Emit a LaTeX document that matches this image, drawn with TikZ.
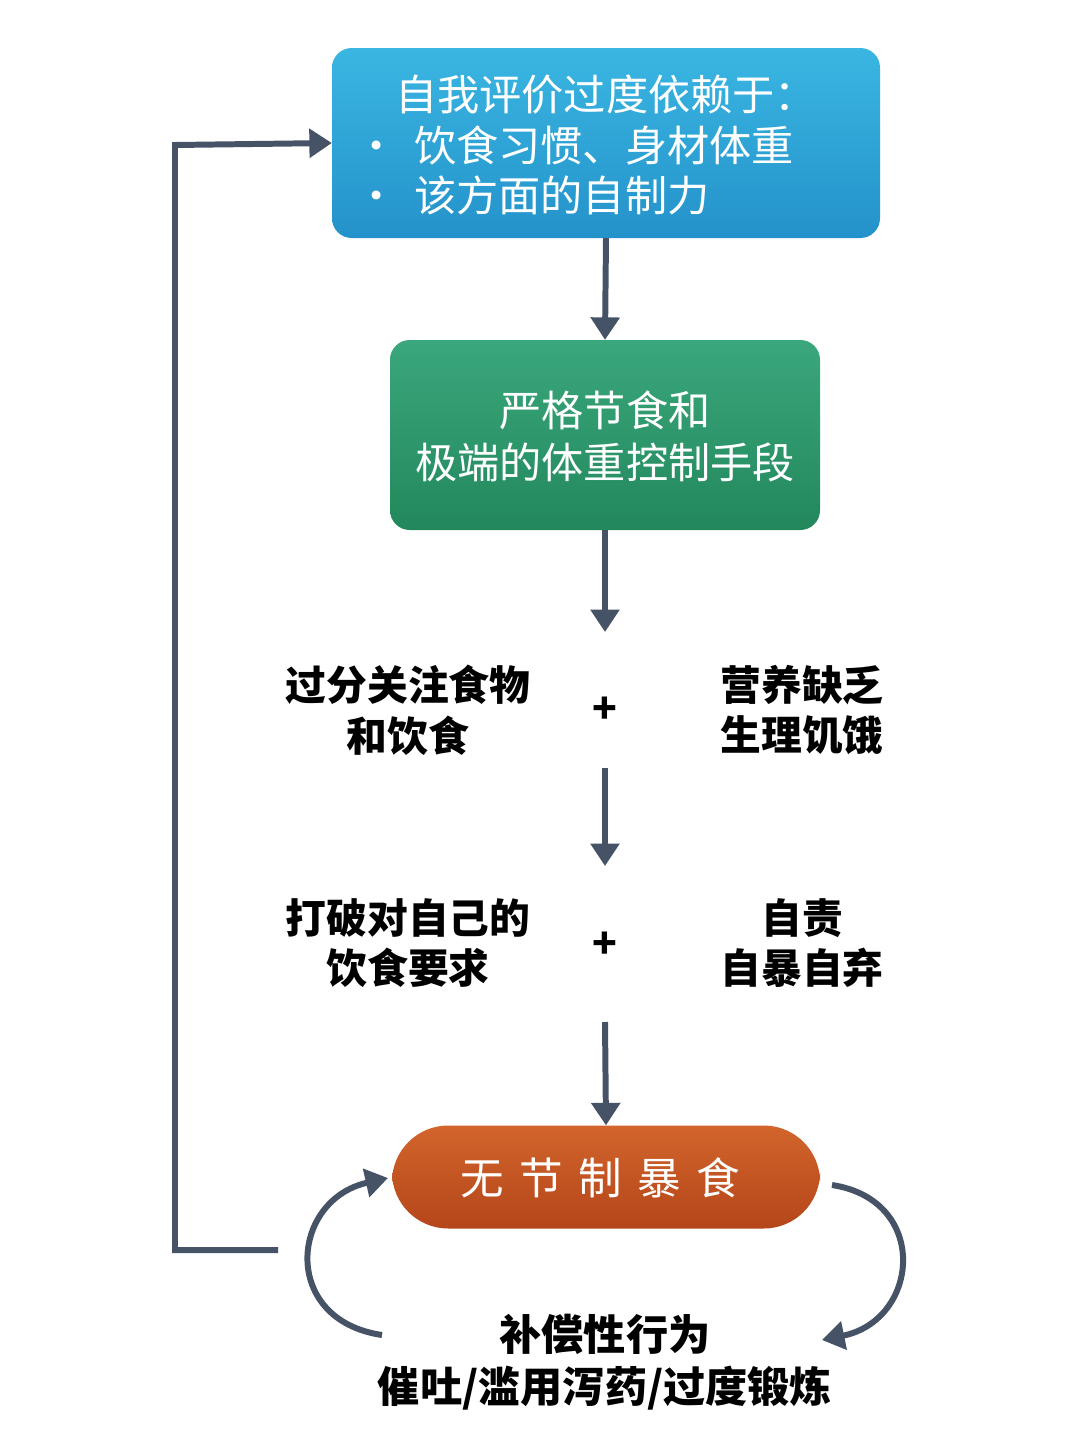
\documentclass[tikz,border=0pt]{standalone}
\usepackage{fontspec}
\setmainfont{Noto Sans CJK SC}
\usetikzlibrary{positioning,arrows.meta}
\definecolor{slate}{HTML}{465366}
\definecolor{bluetop}{HTML}{3AB6E2}
\definecolor{bluebot}{HTML}{2492CA}
\definecolor{greentop}{HTML}{3BA77C}
\definecolor{greenbot}{HTML}{22885C}
\definecolor{orangetop}{HTML}{D2642C}
\definecolor{orangebot}{HTML}{B4461A}
\begin{document}
\begin{tikzpicture}[x=0.05cm,y=-0.05cm,
    every node/.style={inner sep=0pt},
    box/.style={rounded corners=28pt,draw=none},
    wtext/.style={text=white,font=\fontsize{60}{72}\selectfont},
    btext/.style={font=\fontsize{58}{72}\selectfont\bfseries,align=center},
    flow/.style={draw=slate,line width=8.5pt,-{Triangle[length=32pt,width=40pt]}}]
    \useasboundingbox[fill=white] (0,0) rectangle (1080,1450);
    % boxes
    \node[box,top color=bluetop,bottom color=bluebot,minimum width=548*0.05cm,minimum height=190*0.05cm] (eval) at (606,143) {};
    \node[box,top color=greentop,bottom color=greenbot,minimum width=430*0.05cm,minimum height=190*0.05cm] (diet) at (605,435) {};
    \node[box,rounded corners=80pt,top color=orangetop,bottom color=orangebot,minimum width=428*0.05cm,minimum height=103*0.05cm] (binge) at (606,1177) {};
    % texts in boxes
    \node[wtext,anchor=west] (e1) at (395,95) {自我评价过度依赖于：};
    \node[wtext,anchor=west] (e2) at (355,145) {•\hspace{24pt}饮食习惯、身材体重};
    \node[wtext,anchor=west] (e3) at (355,195) {•\hspace{24pt}该方面的自制力};
    \node[wtext] (d1) at (605,410) {严格节食和};
    \node[wtext] (d2) at (605,462) {极端的体重控制手段};
    \node[wtext,font=\fontsize{62}{72}\selectfont] (b1) at (600,1178) {无\hspace{22pt}节\hspace{22pt}制\hspace{22pt}暴\hspace{22pt}食};
    % middle rows
    \node[btext] (focus) at (408,710) {过分关注食物\\和饮食};
    \node[btext] (plus1) at (605,710) {+};
    \node[btext] (hunger) at (802,710) {营养缺乏\\生理饥饿};
    \node[btext] (rules) at (408,943) {打破对自己的\\饮食要求};
    \node[btext] (plus2) at (605,945) {+};
    \node[btext] (blame) at (802,943) {自责\\自暴自弃};
    \node[btext,font=\fontsize{60}{74}\selectfont\bfseries] (comp) at (605,1362) {补偿性行为\\催吐/滥用泻药/过度锻炼};
    % arrows
    \coordinate (a1) at (605,768);
    \coordinate (a2) at (605,1022);
    \draw[flow] (eval.south) -- (diet.north);
    \draw[flow] (diet.south) -- (605,632);
    \draw[flow] (a1) -- (605,866);
    \draw[flow] (a2) -- (binge.north);
    \coordinate (fb) at (278,1250);
    \draw[flow] (fb) -- (175,1250) -- (175,145) -- (eval.west);
    \coordinate (cl) at (382,1335);
    \coordinate (cr) at (832,1185);
    \draw[flow] (cl) .. controls (280,1320) and (290,1200) .. (388,1178);
    \draw[flow] (cr) .. controls (930,1200) and (920,1320) .. (822,1340);
\end{tikzpicture}
\end{document}
